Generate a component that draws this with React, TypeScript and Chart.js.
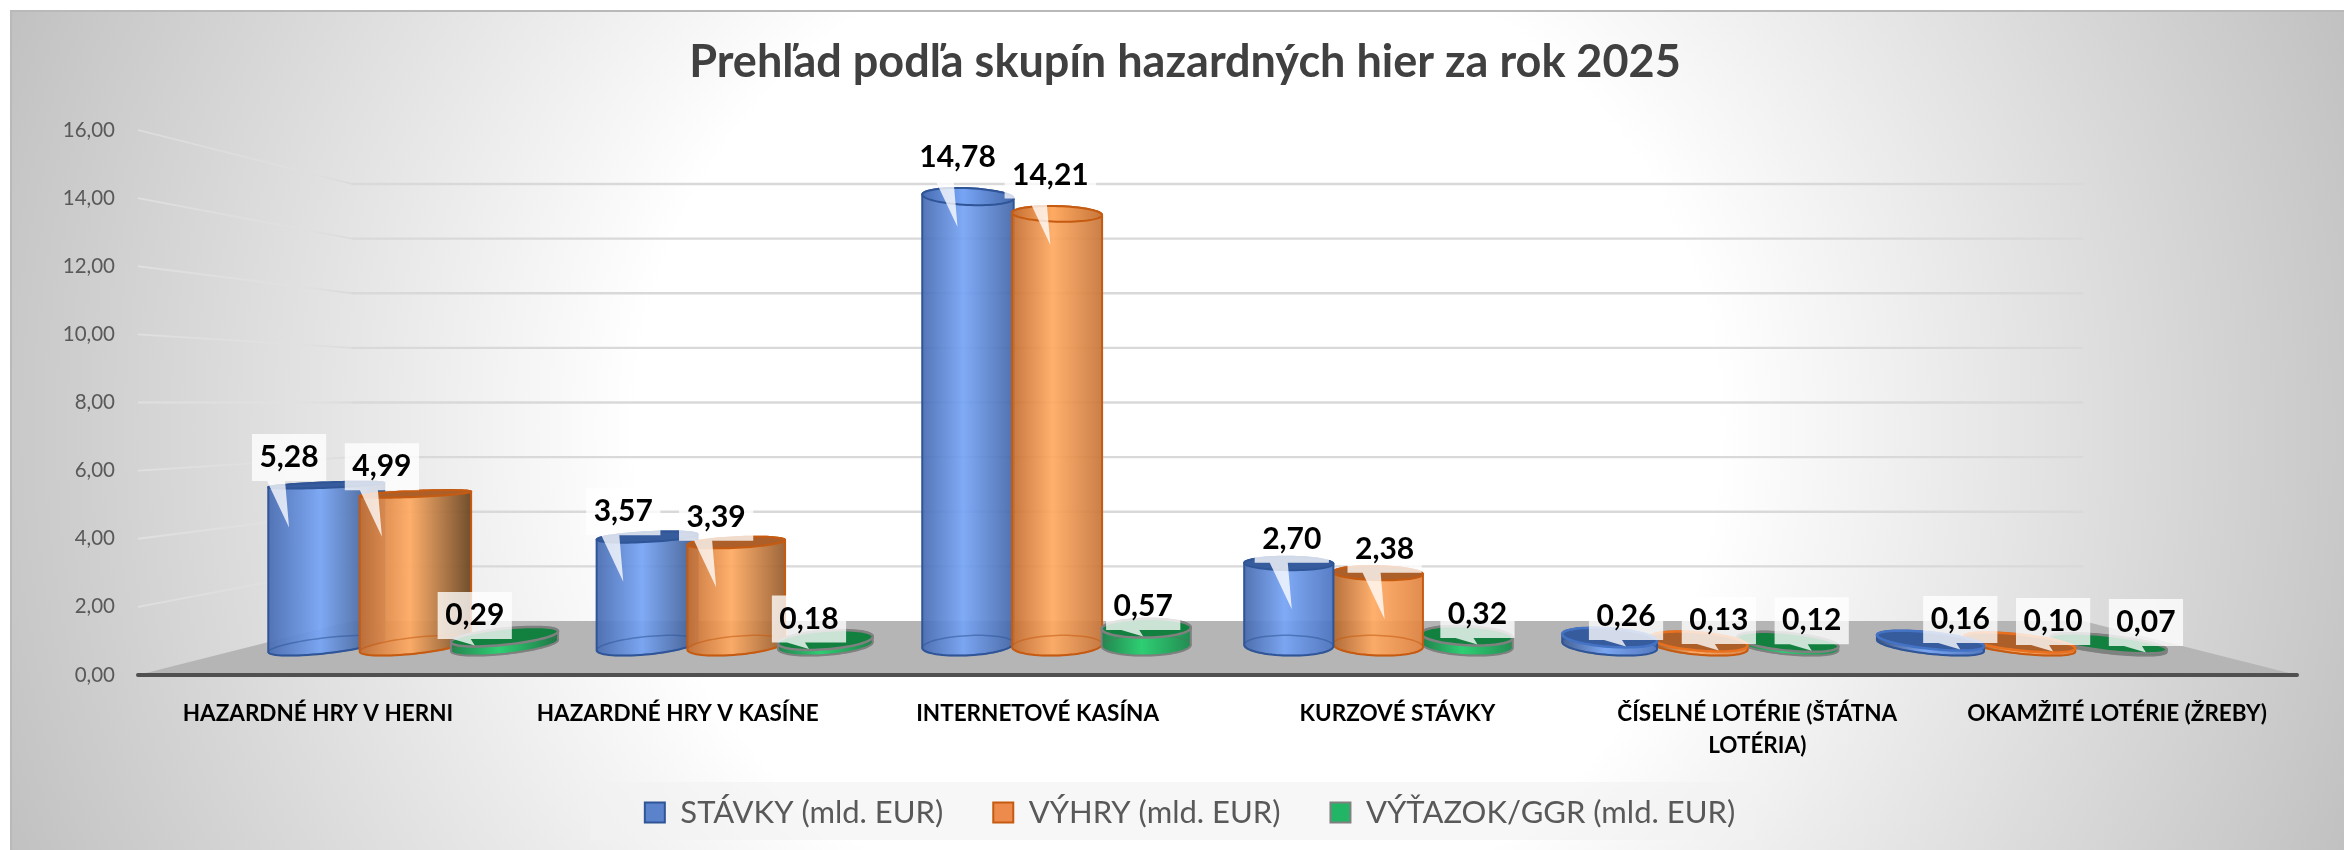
import React, { useEffect, useRef } from "react";
import { Chart, registerables } from "chart.js";

Chart.register(...registerables);

const categories: (string | string[])[] = [
  "HAZARDNÉ HRY V HERNI",
  "HAZARDNÉ HRY V KASÍNE",
  "INTERNETOVÉ KASÍNA",
  "KURZOVÉ STÁVKY",
  ["ČÍSELNÉ LOTÉRIE (ŠTÁTNA", "LOTÉRIA)"],
  "OKAMŽITÉ LOTÉRIE (ŽREBY)",
];
const stavky = [5.28, 3.57, 14.78, 2.7, 0.26, 0.16];
const vyhry = [4.99, 3.39, 14.21, 2.38, 0.13, 0.1];
const vytazok = [0.29, 0.18, 0.57, 0.32, 0.12, 0.07];
const seriesNames = ["STÁVKY (mld. EUR)", "VÝHRY (mld. EUR)", "VÝŤAZOK/GGR (mld. EUR)"];
const titleText = "Prehľad podľa skupín hazardných hier za rok 2025";

const FONT = "Lato, 'Open Sans', sans-serif";
const K = 0.247; // depth of the floor in the perspective
const Zc = 0.5; // cylinders stand half way into the floor
const Zr = 0.19; // depth radius of a cylinder

type RGB = [number, number, number];
const mix = (a: RGB, b: RGB, t: number): string =>
  `rgba(${a.map((v, i) => Math.round(v + (b[i] - v) * t)).join(",")},0.93)`;

const styles = [
  { edge: [72, 108, 178] as RGB, right: [76, 116, 192] as RGB, mid: [118, 164, 245] as RGB, dark: [52, 76, 120] as RGB, top: "#365C9E", line: "#2F5597", rim: "#4472C4", baseRim: "rgba(47,85,151,0.55)" },
  { edge: [196, 110, 50] as RGB, right: [224, 132, 66] as RGB, mid: [255, 170, 98] as RGB, dark: [104, 66, 30] as RGB, top: "#AD5F2A", line: "#C55A11", rim: "#E8701F", baseRim: "rgba(197,90,17,0.55)" },
  { edge: [24, 130, 72] as RGB, right: [24, 140, 76] as RGB, mid: [36, 208, 110] as RGB, dark: [20, 110, 60] as RGB, top: "#12803F", line: "#808080", rim: "#808080", baseRim: "rgba(80,120,90,0.5)" },
];

function hull(points: number[][]): number[][] {
  const p = [...points].sort((a, b) => a[0] - b[0] || a[1] - b[1]);
  const cross = (o: number[], a: number[], b: number[]) =>
    (a[0] - o[0]) * (b[1] - o[1]) - (a[1] - o[1]) * (b[0] - o[0]);
  const lower: number[][] = [];
  for (const q of p) {
    while (lower.length >= 2 && cross(lower[lower.length - 2], lower[lower.length - 1], q) <= 0) lower.pop();
    lower.push(q);
  }
  const upper: number[][] = [];
  for (const q of p.slice().reverse()) {
    while (upper.length >= 2 && cross(upper[upper.length - 2], upper[upper.length - 1], q) <= 0) upper.pop();
    upper.push(q);
  }
  return lower.slice(0, -1).concat(upper.slice(0, -1));
}

const pathOf = (ctx: CanvasRenderingContext2D, pts: number[][]) => {
  ctx.beginPath();
  pts.forEach((p, i) => (i ? ctx.lineTo(p[0], p[1]) : ctx.moveTo(p[0], p[1])));
  ctx.closePath();
};

const scene3d = {
  id: "scene3d",
  afterLayout(chart: any) {
    // centre the title and legend where the reference has them, legend raised over the axis box
    chart.titleBlock.left += 13;
    chart.titleBlock.right += 13;
    chart.legend.left += 18;
    chart.legend.right += 18;
    chart.legend.top -= 28;
    chart.legend.bottom -= 28;
  },
  beforeDraw(chart: any) {
    const { ctx, width, height } = chart;
    ctx.save();
    ctx.fillStyle = "#fff";
    ctx.fillRect(0, 0, width, height);
    const cx = 1177, cy = 430;
    ctx.translate(cx, cy);
    ctx.scale(1, 1100 / 1170);
    const g = ctx.createRadialGradient(0, 0, 0, 0, 0, 1290);
    g.addColorStop(0, "#ffffff");
    g.addColorStop(0.42, "#ffffff");
    g.addColorStop(0.9, "#c9c9c9");
    g.addColorStop(1, "#bdbdbd");
    ctx.fillStyle = g;
    ctx.fillRect(10 - cx, (10 - cy) * 1170 / 1100, width, height * 1170 / 1100);
    ctx.restore();
    ctx.save();
    ctx.fillStyle = "#b9b9b9";
    ctx.fillRect(10, 10, width - 10, 2);
    ctx.fillRect(10, 10, 2, height - 10);
    // legend band
    ctx.fillStyle = "rgba(242,242,242,0.6)";
    ctx.fillRect(590, 782, 1165, 58);
    ctx.restore();
  },
  beforeDatasetsDraw(chart: any) {
    const { ctx, chartArea: a, scales } = chart;
    const vx = (a.left + a.right) / 2, vy = (a.top + a.bottom) / 2;
    const P = (x: number, y: number, z: number) => {
      const s = 1 / (1 + K * z);
      return [vx + s * (x - vx), vy + s * (y - vy)];
    };
    ctx.save();
    // walls
    scales.y.ticks.forEach((t: any) => {
      if (t.value === 0) return;
      const y = scales.y.getPixelForValue(t.value);
      const f = P(a.left, y, 0), bl = P(a.left, y, 1), br = P(a.right, y, 1);
      const side = ctx.createLinearGradient(f[0], 0, bl[0], 0);
      side.addColorStop(0, "rgba(232,232,232,0.6)");
      side.addColorStop(0.6, "rgba(228,228,228,0.35)");
      side.addColorStop(1, "rgba(217,217,217,0.9)");
      ctx.strokeStyle = side;
      ctx.lineWidth = 1.8;
      ctx.beginPath();
      ctx.moveTo(f[0], f[1]);
      ctx.lineTo(bl[0], bl[1]);
      ctx.stroke();
      ctx.strokeStyle = "#d9d9d9";
      ctx.lineWidth = 2.4;
      ctx.beginPath();
      ctx.moveTo(bl[0], bl[1]);
      ctx.lineTo(br[0], br[1]);
      ctx.stroke();
    });
    // floor
    const y0 = scales.y.getPixelForValue(0);
    ctx.fillStyle = "#b5b5b5";
    pathOf(ctx, [P(a.left, y0, 0), P(a.right, y0, 0), P(a.right, y0, 1), P(a.left, y0, 1)]);
    ctx.fill();
    // axis line
    ctx.strokeStyle = "#505050";
    ctx.lineWidth = 4;
    ctx.lineCap = "round";
    ctx.beginPath();
    ctx.moveTo(a.left, y0);
    ctx.lineTo(a.right, y0);
    ctx.stroke();
    ctx.restore();
  },
  beforeDatasetDraw() {
    return false;
  },
  afterDatasetsDraw(chart: any) {
    const { ctx, chartArea: a, scales } = chart;
    const vx = (a.left + a.right) / 2, vy = (a.top + a.bottom) / 2;
    const P = (x: number, y: number, z: number) => {
      const s = 1 / (1 + K * z);
      return [vx + s * (x - vx), vy + s * (y - vy)];
    };
    const y0 = scales.y.getPixelForValue(0);
    const items: any[] = [];
    chart.data.datasets.forEach((ds: any, di: number) => {
      chart.getDatasetMeta(di).data.forEach((el: any, i: number) => {
        items.push({ di, i, x: el.x, y: el.y, r: el.width / 2, value: ds.data[i] });
      });
    });
    const circle = (it: any, y: number) => {
      const pts: number[][] = [];
      for (let t = 0; t < 72; t++) {
        const th = (t / 72) * Math.PI * 2;
        pts.push(P(it.x + it.r * Math.cos(th), y, Zc + Zr * Math.sin(th)));
      }
      return pts;
    };
    // painter's order: far from the centre first
    const sorted = [...items].sort((p, q) => Math.abs(q.x - vx) - Math.abs(p.x - vx));
    ctx.save();
    sorted.forEach((it) => {
      const st = styles[it.di];
      const base = circle(it, y0), top = circle(it, it.y);
      const body = hull(base.concat(top));
      const xs = body.map((p) => p[0]);
      const minX = Math.min(...xs), maxX = Math.max(...xs);
      const t = Math.min(1, Math.abs(P(it.x, y0, Zc)[0] - vx) / 780);
      const isLeft = it.x < vx;
      const g = ctx.createLinearGradient(minX, 0, maxX, 0);
      g.addColorStop(0, isLeft ? mix(st.edge, st.edge, 0) : mix(st.edge, st.dark, t));
      g.addColorStop(0.45, mix(st.mid, st.mid, 0));
      g.addColorStop(1, isLeft ? mix(st.right, st.dark, t) : mix(st.right, st.right, 0));
      ctx.fillStyle = g;
      pathOf(ctx, body);
      ctx.fill();
      ctx.lineWidth = 1.5;
      ctx.strokeStyle = st.baseRim;
      pathOf(ctx, base);
      ctx.stroke();
      ctx.strokeStyle = st.line;
      ctx.lineWidth = 2;
      pathOf(ctx, body);
      ctx.stroke();
      const aboveEye = it.y < vy;
      ctx.fillStyle = aboveEye ? g : st.top;
      pathOf(ctx, top);
      ctx.fill();
      ctx.strokeStyle = it.value < 1 ? st.rim : st.line;
      ctx.lineWidth = it.value < 1 ? 2.5 : 2;
      pathOf(ctx, top);
      ctx.stroke();
    });
    // callout labels
    ctx.font = `bold 30px ${FONT}`;
    ctx.textAlign = "center";
    ctx.textBaseline = "middle";
    items.forEach((it) => {
      const s = P(it.x, it.y, Zc - Zr);
      const cx = s[0], cy = s[1] - 31;
      const text = it.value.toFixed(2).replace(".", ",");
      const w = ctx.measureText(text).width + 15, h = 47;
      const tip = it.value > 1 ? 70 : 30;
      const l = cx - w / 2, r = cx + w / 2, tp = cy - h / 2, b = cy + h / 2;
      ctx.fillStyle = "rgba(255,255,255,0.78)";
      ctx.beginPath();
      ctx.moveTo(l, tp);
      ctx.lineTo(r, tp);
      ctx.lineTo(r, b);
      ctx.lineTo(cx - 4, b);
      ctx.lineTo(cx, cy + tip);
      ctx.lineTo(cx - 22, b);
      ctx.lineTo(l, b);
      ctx.closePath();
      ctx.fill();
    });
    ctx.fillStyle = "#000";
    items.forEach((it) => {
      const s = P(it.x, it.y, Zc - Zr);
      ctx.fillText(it.value.toFixed(2).replace(".", ","), s[0], s[1] - 31);
    });
    ctx.restore();
  },
};

export default function App() {
  const ref = useRef<HTMLCanvasElement>(null);
  useEffect(() => {
    document.body.style.margin = "0";
    const chart = new Chart(ref.current as HTMLCanvasElement, {
      type: "bar",
      data: {
        labels: categories as any,
        datasets: [
          { label: seriesNames[0], data: stavky, backgroundColor: "#5B83CC", borderColor: "#2F5597", borderWidth: 2 },
          { label: seriesNames[1], data: vyhry, backgroundColor: "#ED8B4D", borderColor: "#C55A11", borderWidth: 2 },
          { label: seriesNames[2], data: vytazok, backgroundColor: "#22B566", borderColor: "#808080", borderWidth: 2 },
        ],
      },
      options: {
        responsive: false,
        animation: false,
        devicePixelRatio: 1,
        layout: { padding: { left: 47, right: 47, top: 10, bottom: -16 } },
        datasets: { bar: { barPercentage: 1, categoryPercentage: 0.8333 } } as any,
        scales: {
          x: {
            grid: { display: false },
            border: { display: false },
            afterFit: (s: any) => { s.height = 100; },
            ticks: {
              autoSkip: false,
              maxRotation: 0,
              padding: 15,
              color: "#000",
              font: { family: FONT, size: 22.5, weight: "bold", lineHeight: 1.42 },
            },
          },
          y: {
            min: 0,
            max: 16,
            grid: { display: false },
            border: { display: false },
            afterFit: (s: any) => { s.width = 91; },
            ticks: {
              stepSize: 2,
              padding: 15,
              color: "#595959",
              font: { family: FONT, size: 20.5 },
              callback: (v: any) => Number(v).toFixed(2).replace(".", ","),
            },
          },
        },
        plugins: {
          title: {
            display: true,
            text: titleText,
            color: "#404040",
            font: { family: FONT, size: 45, weight: "bold", lineHeight: 1.2 },
            padding: { top: 25, bottom: 41 },
          },
          legend: {
            position: "bottom",
            labels: {
              boxWidth: 20,
              boxHeight: 20,
              padding: 50,
              color: "#595959",
              font: { family: FONT, size: 31 },
            },
          },
          tooltip: { enabled: false },
        },
      },
      plugins: [scene3d],
    } as any);
    return () => chart.destroy();
  }, []);
  return <canvas ref={ref} width={2344} height={850} style={{ display: "block" }} />;
}
